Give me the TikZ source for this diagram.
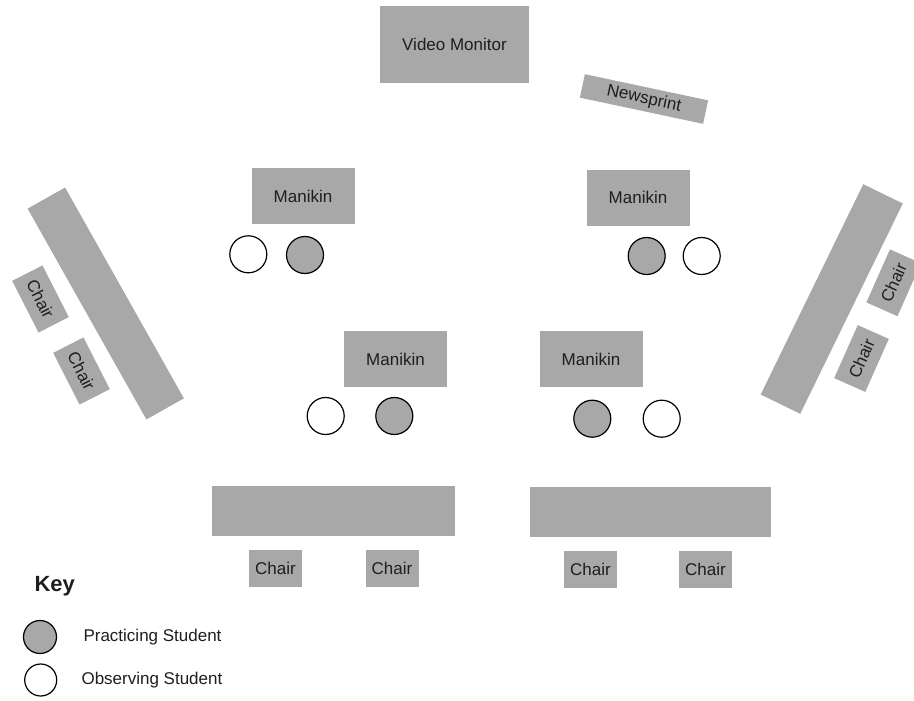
\documentclass[tikz,border=0pt]{standalone}
\usepackage{fontspec}
\setmainfont{Liberation Sans}
\definecolor{padgray}{RGB}{168,168,168}
\definecolor{inkgray}{RGB}{30,30,30}

\begin{document}
\begin{tikzpicture}[
    x=1pt, y=-1pt,
    box/.style={
        rectangle,
        fill=padgray,
        inner sep=0pt,
        text=inkgray,
        font=\fontsize{17}{20}\selectfont,
        align=center
    },
    manikin/.style={box, minimum width=103pt, minimum height=56pt},
    chair/.style={box, minimum width=53pt, minimum height=37pt},
    sidechair/.style={box, minimum width=58pt, minimum height=34pt},
    practice/.style={
        circle,
        draw=black,
        line width=1.2pt,
        fill=padgray,
        minimum size=37pt,
        inner sep=0pt
    },
    observe/.style={practice, fill=white},
    keytext/.style={anchor=west, text=inkgray, font=\fontsize{17}{20}\selectfont}
]
\useasboundingbox (0,0) rectangle (914,701);

\node[box, minimum width=149pt, minimum height=77pt] (monitor) at (454.5,44.5) {Video Monitor};
\node[box, minimum width=126pt, minimum height=24pt, rotate=-12] (newsprint) at (644,99) {Newsprint};

\node[manikin] (man1) at (303,196) {Manikin};
\node[manikin] (man2) at (638,197.5) {Manikin};
\node[manikin] (man3) at (395.5,359) {Manikin};
\node[manikin] (man4) at (591,359) {Manikin};

\node[observe] (obs1) at (248.3,254.3) {};
\node[practice] (pra1) at (305,255) {};
\node[practice] (pra2) at (646.7,256) {};
\node[observe] (obs2) at (701.7,256) {};
\node[observe] (obs3) at (325.7,416) {};
\node[practice] (pra3) at (394.3,416) {};
\node[practice] (pra4) at (592.3,418.7) {};
\node[observe] (obs4) at (661.7,418.7) {};

\node[box, minimum width=243pt, minimum height=50pt] (tableL) at (333.5,511) {};
\node[box, minimum width=241pt, minimum height=50pt] (tableR) at (650,512) {};
\node[chair] (chair1) at (275.5,568.5) {Chair};
\node[chair] (chair2) at (392,568.5) {Chair};
\node[chair] (chair3) at (590.5,569.5) {Chair};
\node[chair] (chair4) at (705.5,569.5) {Chair};

\node[box, minimum width=242pt, minimum height=43pt, rotate=-60.6] (benchL) at (105.75,303.5) {};
\node[sidechair, rotate=-63] (chair5) at (40.5,299) {Chair};
\node[sidechair, rotate=-63] (chair6) at (81.5,371) {Chair};

\node[box, minimum width=234pt, minimum height=44pt, rotate=64] (benchR) at (831.75,299) {};
\node[sidechair, rotate=66] (chair7) at (893.7,282.8) {Chair};
\node[sidechair, rotate=66] (chair8) at (861.5,358.5) {Chair};

\node[anchor=west, text=inkgray, font=\fontsize{22}{26}\selectfont\bfseries] (key) at (31,586) {Key};
\node[practice, minimum size=33pt] (keypra) at (40,637) {};
\node[observe, minimum size=32pt] (keyobs) at (40.7,680) {};
\node[keytext] (keypratext) at (80,637) {Practicing Student};
\node[keytext] (keyobstext) at (78,680) {Observing Student};

\end{tikzpicture}
\end{document}
